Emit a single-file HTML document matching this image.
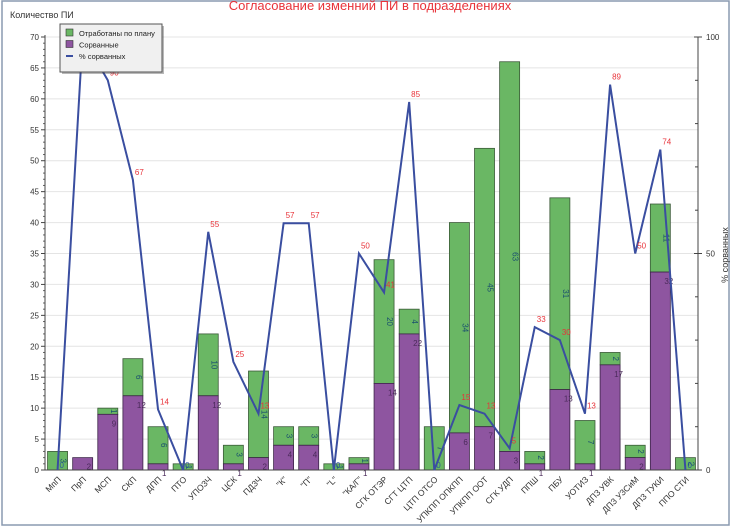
<!DOCTYPE html>
<html><head><meta charset="utf-8">
<style>
body{margin:0;background:#fff;font-family:"Liberation Sans","DejaVu Sans",sans-serif;}
svg{display:block}
</style></head>
<body>
<svg id="c" width="734" height="526" viewBox="0 0 734 526"></svg>
<script>
const categories=["МпП","ПрП","МСП","СКП","ДПП","ПТО","УПОЗЧ","ЦСК","ПДЗЧ","\"К\"","\"П\"","\"L\"","\"КА/Г\"","СГК ОТЭР","СГТ ЦТП","ЦТП ОТСО","УПКПП ОПКПП","УПКПП ООТ","СГК УДП","ППШ","ПБУ","УОТИЗ","ДПЗ УВК","ДПЗ УЗСиМ","ДПЗ ТУКИ","ППО СТИ"];
const totalPlan=[3,2,10,18,7,1,22,4,16,7,7,1,2,34,26,7,40,52,66,3,44,8,19,4,43,2];
const failed=[0,2,9,12,1,0,12,1,2,4,4,0,1,14,22,0,6,7,3,1,13,1,17,2,32,0];
const pctFailed=[0,100,90,67,14,0,55,25,13,57,57,0,50,41,85,0,15,13,5,33,30,13,89,50,74,0];
const leftTicks=[0,5,10,15,20,25,30,35,40,45,50,55,60,65,70];
const rightTicks=[0,50,100];

const NS="http://www.w3.org/2000/svg";
const svg=document.getElementById('c');
function mk(t,a,p){const e=document.createElementNS(NS,t);for(const k in a)e.setAttribute(k,a[k]);(p||svg).appendChild(e);return e;}
const X0=45,X1=698,Y0=470,Y1=37;
const band=(X1-X0)/categories.length;
const y=v=>Y0-(v/70)*(Y0-Y1);
const yr=v=>Y0-(v/100)*(Y0-Y1);
const xc=i=>X0+band*(i+0.5);

// frame
let f=mk('rect',{x:2,y:1,width:727,height:524,fill:'none',stroke:'#8a9ab0','stroke-width':1.5});


// title
let t=mk('text',{x:370,y:10,'text-anchor':'middle','font-size':13,fill:'#e8333a'});

t.textContent='Согласование изменний ПИ в подразделениях';

// grid + left ticks
for(let v=0;v<=70;v++){
  const yy=y(v);
  if(v%5===0){
    if(v>0){const g=mk('line',{x1:X0,x2:X1,y1:yy,y2:yy,stroke:'#e4e4e4'});}
    mk('line',{x1:X0-4,x2:X0,y1:yy,y2:yy,stroke:'#444'});
  } else mk('line',{x1:X0-2,x2:X0,y1:yy,y2:yy,stroke:'#666'});
}
leftTicks.forEach(v=>{const l=mk('text',{x:X0-6,y:y(v)+3,'text-anchor':'end','font-size':8,fill:'#333'});
l.textContent=v;});
let ya=mk('line',{x1:X0,x2:X0,y1:Y1-2,y2:Y0,stroke:'#444'});
let yt=mk('text',{x:10,y:18,'font-size':9,fill:'#333'});yt.textContent='Количество ПИ';

// right axis
let ra=mk('line',{x1:X1,x2:X1,y1:Y1,y2:Y0,stroke:'#444'});
for(let v=0;v<=100;v+=10)mk('line',{x1:X1-(v%50===0?4:3),x2:X1+(v%50===0?4:0),y1:yr(v),y2:yr(v),stroke:'#444'});
rightTicks.forEach(v=>{const l=mk('text',{x:X1+8,y:yr(v)+3,'font-size':8,fill:'#333'});
l.textContent=v;});
let rt=mk('text',{x:0,y:0,'font-size':9,fill:'#333','text-anchor':'middle',transform:'translate(728,255) rotate(-90)'});
rt.textContent='% сорванных';

// bars
const bw=20;
categories.forEach((c,i)=>{
  const x=xc(i)-bw/2, tot=totalPlan[i], fl=failed[i], ok=tot-fl;
  if(ok>0){const g=mk('rect',{x:x,y:y(tot),width:bw,height:y(fl)-y(tot),fill:'#6ab764',stroke:'#3b5a38','stroke-width':0.8});
    
    const lt=mk('text',{x:0,y:0,'font-size':8,fill:'#1a4f6e','text-anchor':'middle',transform:`translate(${xc(i)+3},${(y(tot)+y(fl))/2}) rotate(90)`});
    lt.textContent=ok;}
  if(fl>0){const p=mk('rect',{x:x,y:y(fl),width:bw,height:Y0-y(fl),fill:'#8e55a0',stroke:'#3c2448','stroke-width':0.8});
    
    const lp=mk('text',{x:xc(i)+4,y:y(fl)+12,'font-size':8,fill:'#4a2a5a'});
    lp.textContent=fl;}
  else {const lp=mk('text',{x:xc(i)+2,y:Y0-2,'font-size':8,fill:'#2a5a9a'});lp.textContent='0';}
  const xl=mk('text',{x:0,y:0,'font-size':8.5,fill:'#333','text-anchor':'end',transform:`translate(${xc(i)+4},${Y0+10}) rotate(-45)`});
  xl.textContent=c;
});
let xa=mk('line',{x1:X0,x2:X1,y1:Y0,y2:Y0,stroke:'#444'});

// line
const pts=pctFailed.map((v,i)=>xc(i)+','+yr(v)).join(' ');
let pl=mk('polyline',{points:pts,fill:'none',stroke:'#3a4ea0','stroke-width':2});

pctFailed.forEach((v,i)=>{if(v>0){const l=mk('text',{x:xc(i)+2,y:yr(v)-5,'font-size':8,fill:'#e8333a'});
l.textContent=v;}});

// legend
const lg=mk('g',{});
mk('rect',{x:62,y:26,width:102,height:48,fill:'#333',opacity:0.35},lg);
mk('rect',{x:60,y:24,width:102,height:48,fill:'#f0f0f0',stroke:'#555'},lg);
const items=[['Отработаны по плану','#6ab764'],['Сорванные','#8e55a0'],['% сорванных',null]];
items.forEach((it,k)=>{const yy=34+k*11.5;
  const e=mk('g',{},lg);
  if(it[1])mk('rect',{x:66,y:yy-5,width:7,height:7,fill:it[1],stroke:'#333','stroke-width':0.6},e);
  else mk('line',{x1:66,x2:73,y1:yy-1,y2:yy-1,stroke:'#3a4ea0','stroke-width':2},e);
  const tx=mk('text',{x:79,y:yy+2,'font-size':7.5,fill:'#222'},e);tx.textContent=it[0];});
</script>
</body></html>
